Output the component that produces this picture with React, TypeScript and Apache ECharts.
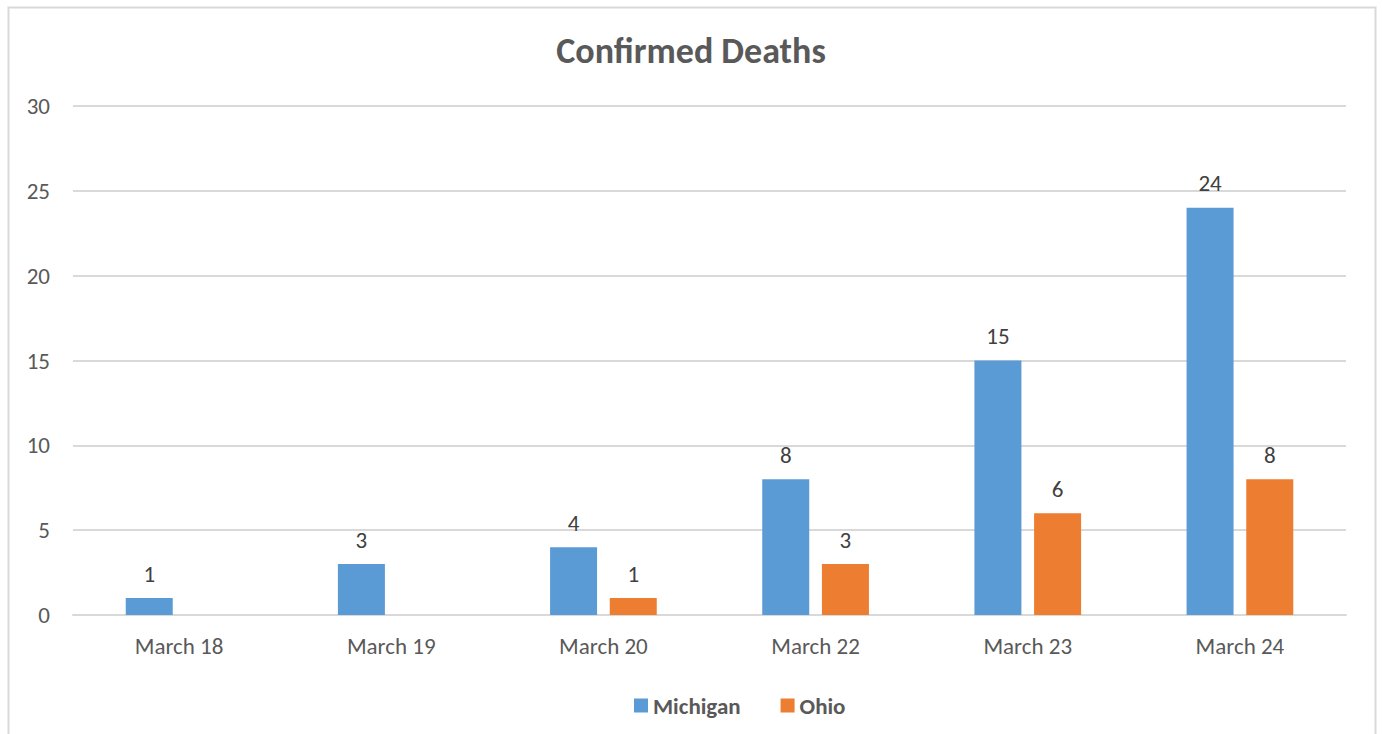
import React, { useEffect, useRef } from "react";
import * as echarts from "echarts";

const categories = ["March 18", "March 19", "March 20", "March 22", "March 23", "March 24"];
const michigan = [1, 3, 4, 8, 15, 24];
const ohio: (number | null)[] = [null, null, 1, 3, 6, 8];
const seriesNames = ["Michigan", "Ohio"];
const chartTitle = "Confirmed Deaths";

const FONT = "Carlito, Calibri, Lato, sans-serif";
const TXT = "#595959";

export default function App() {
  const ref = useRef<HTMLDivElement>(null);
  useEffect(() => {
    document.body.style.margin = "0";
    const chart = echarts.init(ref.current!, null, { renderer: "svg" });
    chart.setOption({
      animation: false,
      backgroundColor: "#ffffff",
      textStyle: { fontFamily: FONT },
      title: {
        text: chartTitle,
        left: "center",
        top: 28,
        textStyle: { fontFamily: FONT, fontSize: 36, fontWeight: "bold", color: TXT },
      },
      graphic: [
        {
          type: "rect",
          shape: { x: 8.5, y: 7.5, width: 1367, height: 740 },
          style: { fill: "none", stroke: "#d9d9d9", lineWidth: 2 },
          silent: true,
        },
      ],
      legend: {
        bottom: 12,
        left: 629,
        icon: "rect",
        itemWidth: 14,
        itemHeight: 14,
        itemGap: 40,
        textStyle: { fontFamily: FONT, fontSize: 23, fontWeight: "bold", color: TXT },
        data: seriesNames,
      },
      grid: { left: 73, right: 36, top: 106, bottom: 119, containLabel: false },
      xAxis: {
        type: "category",
        data: categories,
        axisLine: { lineStyle: { color: "#d9d9d9", width: 2 } },
        axisTick: { show: false },
        axisLabel: { color: TXT, fontSize: 23, margin: 19, fontFamily: FONT },
      },
      yAxis: {
        type: "value",
        min: 0,
        max: 30,
        interval: 5,
        axisLine: { show: false },
        axisTick: { show: false },
        splitLine: { lineStyle: { color: "#d9d9d9", width: 2 } },
        axisLabel: { color: TXT, fontSize: 23, margin: 23, fontFamily: FONT },
      },
      series: [
        {
          name: seriesNames[0],
          type: "bar",
          data: michigan,
          barWidth: 47,
          barGap: "27%",
          itemStyle: { color: "#5B9BD5" },
          label: { show: true, position: "top", distance: 13, color: "#404040", fontSize: 23, fontFamily: FONT },
        },
        {
          name: seriesNames[1],
          type: "bar",
          data: ohio,
          barWidth: 47,
          barGap: "27%",
          itemStyle: { color: "#ED7D31" },
          label: { show: true, position: "top", distance: 13, color: "#404040", fontSize: 23, fontFamily: FONT },
        },
      ],
    });
    return () => chart.dispose();
  }, []);
  return <div ref={ref} style={{ width: 1382, height: 734 }} />;
}
